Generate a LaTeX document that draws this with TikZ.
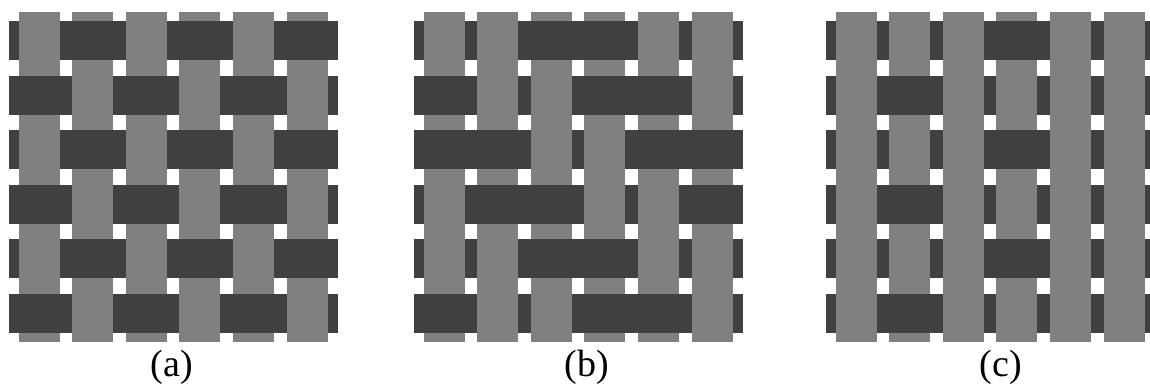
\documentclass[tikz,border=0pt]{standalone}
\usepackage{fontspec}
\setmainfont{Liberation Serif}
\definecolor{warpgray}{RGB}{128,128,128}
\definecolor{weftdark}{RGB}{64,64,64}

\begin{document}
\begin{tikzpicture}[x=0.5pt, y=-0.5pt,
    warp/.style={fill=warpgray},
    weft/.style={fill=weftdark},
    caption/.style={font=\fontsize{19}{22}\selectfont, anchor=base}]
    \clip (0,0) rectangle (1150,385);
    \def\px{53.6} \def\py{54.6} \def\ww{20.5} \def\wh{19.5}
    % panel: left column centre / weft-over test / label x / label
    \foreach \x/\cond/\lx/\lab in {39/{mod(\i+\j,2)}/172/a,
        444/{mod(\i-\j+8,4)>1}/587/b,
        856/{(\i==2)*(1-mod(\j,2))+(\i==4)*mod(\j,2)}/1001/c}{
        % weft rows (under)
        \foreach \j in {1,...,6}
            \fill[weft] (\x-30.5, 40.5+\py*\j-\py-\wh) rectangle ++(5*\px+61, 2*\wh);
        % warp columns
        \foreach \i in {1,...,6}
            \fill[warp] (\x+\px*\i-\px-\ww, 12.5) rectangle ++(2*\ww, 5*\py+56);
        % weft crossing over warp
        \foreach \i in {1,...,6}
            \foreach \j in {1,...,6}{
                \pgfmathtruncatemacro\isweft{\cond}
                \ifnum\isweft>0
                    \fill[weft] (\x+\px*\i-1.5*\px, 40.5+\py*\j-\py-\wh) rectangle ++(\px, 2*\wh);
                \fi
            }
        \node[caption] (cap-\lab) at (\lx, 376) {(\lab)};
    }
\end{tikzpicture}
\end{document}
